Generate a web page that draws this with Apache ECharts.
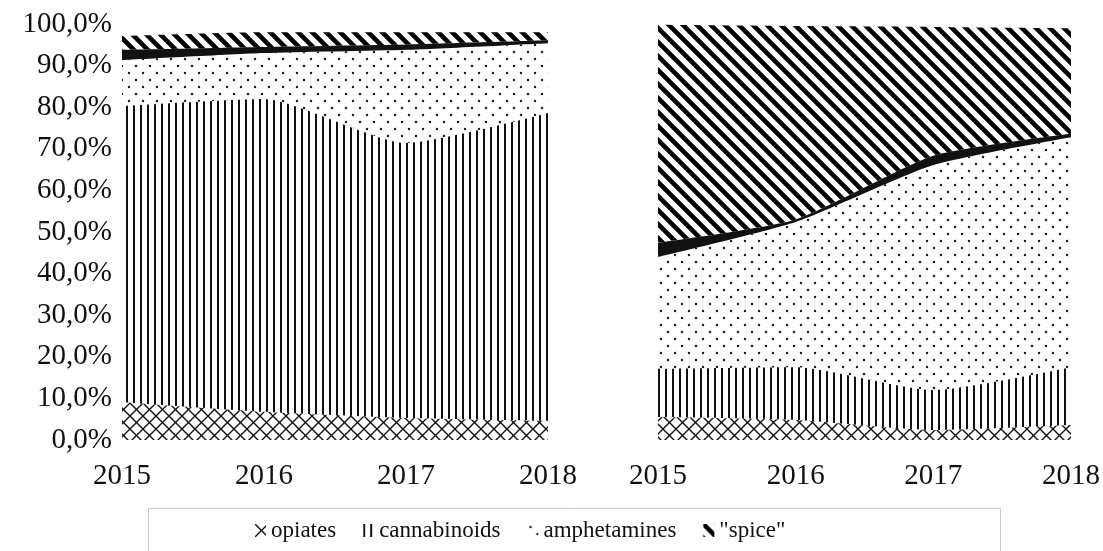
<!DOCTYPE html>
<html>
<head>
<meta charset="utf-8">
<script src="https://cdn.jsdelivr.net/npm/echarts@6/dist/echarts.min.js"></script>
<style>
html,body{margin:0;padding:0;background:#fff;}
#chart{width:1103px;height:551px;}
</style>
</head>
<body>
<div id="chart"></div>
<script>
// ---- data (percent shares) ----
const years = ['2015', '2016', '2017', '2018'];
const legendNames = ['opiates', 'cannabinoids', 'amphetamines', '"spice"'];

const leftOpiates      = [9.1, 6.8, 5.3, 4.6];
const leftCannabinoids = [71.2, 75.2, 66.1, 74.0];
const leftAmphetamines = [11.0, 11.0, 22.4, 16.8];
const leftDarkBand     = [2.5, 1.5, 1.3, 0.7];
const leftSpice        = [3.3, 3.5, 2.9, 1.9];

const rightOpiates      = [5.5, 4.8, 2.4, 3.6];
const rightCannabinoids = [11.6, 12.7, 9.6, 13.9];
const rightAmphetamines = [26.9, 34.9, 54.1, 55.3];
const rightDarkBand     = [3.4, 0.6, 2.2, 0.8];
const rightSpice        = [52.4, 46.5, 31.0, 25.4];

// ---- patterns ----
function tile(w, h, draw) {
  const c = document.createElement('canvas');
  c.width = w; c.height = h;
  const g = c.getContext('2d');
  draw(g, w, h);
  return { image: c, repeat: 'repeat' };
}
const patOpiates = tile(13, 13, (g, w, h) => {
  g.strokeStyle = '#111'; g.lineWidth = 1.4;
  g.beginPath();
  g.moveTo(-1, h + 1); g.lineTo(w + 1, -1);
  g.moveTo(-1, -1); g.lineTo(w + 1, h + 1);
  g.stroke();
});
const patCannabinoids = tile(7, 4, (g, w, h) => {
  g.fillStyle = '#111'; g.fillRect(0, 0, 2, h);
});
const patAmphetamines = tile(14, 14, (g) => {
  g.fillStyle = '#222';
  g.beginPath(); g.arc(3, 3, 1.25, 0, Math.PI * 2); g.fill();
  g.beginPath(); g.arc(10, 10, 1.25, 0, Math.PI * 2); g.fill();
});
const patSpice = tile(14, 14, (g, w, h) => {
  g.strokeStyle = '#000'; g.lineWidth = 4.6;
  g.beginPath();
  for (let k = -1; k <= 1; k++) {
    g.moveTo(k * w - 2, -2); g.lineTo(k * w + w + 2, h + 2);
  }
  g.stroke();
});
const patterns = [patOpiates, patCannabinoids, patAmphetamines, '#111', patSpice];

const font = 'Liberation Serif';

function makeSeries(gridIdx, arrays, stackName) {
  const names = ['opiates', 'cannabinoids', 'amphetamines', 'band', '"spice"'];
  return arrays.map((arr, i) => ({
    name: names[i],
    type: 'line',
    xAxisIndex: gridIdx,
    yAxisIndex: gridIdx,
    stack: stackName,
    data: arr,
    smooth: 0.2,
    symbol: 'none',
    silent: true,
    lineStyle: { width: 0 },
    itemStyle: { color: patterns[i] },
    areaStyle: { color: patterns[i], opacity: 1 }
  }));
}

const chart = echarts.init(document.getElementById('chart'), null, { renderer: 'canvas' });

const xAxisBase = {
  type: 'category',
  data: years,
  boundaryGap: false,
  axisLine: { show: false },
  axisTick: { show: false },
  axisLabel: { color: '#111', fontFamily: font, fontSize: 29, margin: 22 }
};

chart.setOption({
  animation: false,
  backgroundColor: '#fff',
  grid: [
    { left: 122, right: 555, top: 24, bottom: 111 },
    { left: 658, right: 32, top: 24, bottom: 111 }
  ],
  xAxis: [
    Object.assign({ gridIndex: 0 }, xAxisBase),
    Object.assign({ gridIndex: 1 }, xAxisBase)
  ],
  yAxis: [
    {
      gridIndex: 0, type: 'value', min: 0, max: 100, interval: 10,
      axisLine: { show: false }, axisTick: { show: false }, splitLine: { show: false },
      axisLabel: {
        color: '#111', fontFamily: font, fontSize: 29, margin: 10,
        formatter: v => v.toFixed(1).replace('.', ',') + '%'
      }
    },
    {
      gridIndex: 1, type: 'value', min: 0, max: 100, interval: 10, show: false
    }
  ],
  legend: {
    data: legendNames,
    left: 250,
    top: 514,
    icon: 'rect',
    itemWidth: 11,
    itemHeight: 13,
    itemGap: 27,
    selectedMode: false,
    textStyle: { color: '#111', fontFamily: font, fontSize: 23 }
  },
  graphic: [
    {
      type: 'rect',
      shape: { x: 148.5, y: 508.5, width: 852, height: 60 },
      style: { fill: 'none', stroke: '#c8c8c8', lineWidth: 1 },
      silent: true
    }
  ],
  series: [].concat(
    makeSeries(0, [leftOpiates, leftCannabinoids, leftAmphetamines, leftDarkBand, leftSpice], 'L'),
    makeSeries(1, [rightOpiates, rightCannabinoids, rightAmphetamines, rightDarkBand, rightSpice], 'R')
  )
});
</script>
</body>
</html>
